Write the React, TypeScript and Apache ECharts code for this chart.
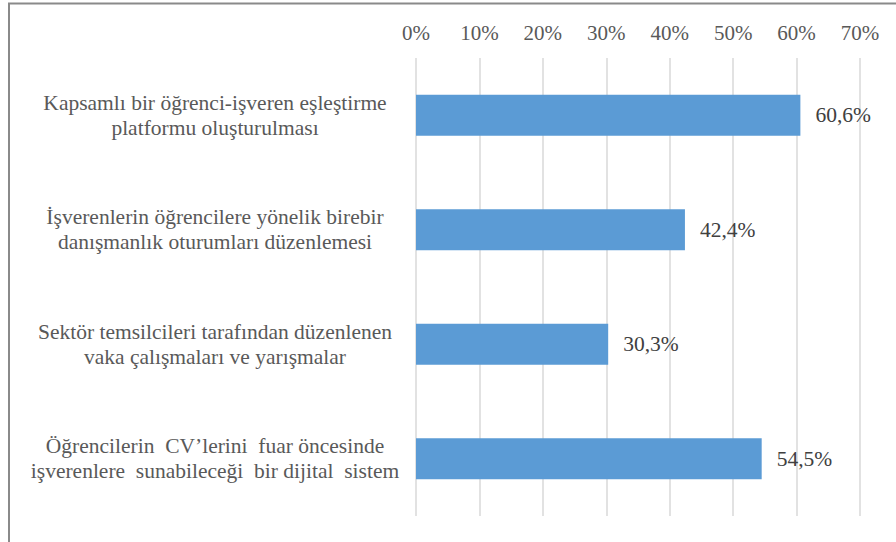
import React, { useEffect, useRef } from "react";
import * as echarts from "echarts";

const categories: string[] = [
  "Kapsamlı bir öğrenci-işveren eşleştirme\nplatformu oluşturulması",
  "İşverenlerin öğrencilere yönelik birebir\ndanışmanlık oturumları düzenlemesi",
  "Sektör temsilcileri tarafından düzenlenen\nvaka çalışmaları ve yarışmalar",
  "Öğrencilerin  CV’lerini  fuar öncesinde\nişverenlere  sunabileceği  bir dijital  sistem",
];
const values: number[] = [60.6, 42.4, 30.3, 54.5];
const tickMax = 70;
const tickStep = 10;

const FONT = "Liberation Serif";

export default function App() {
  const ref = useRef<HTMLDivElement>(null);
  useEffect(() => {
    document.body.style.margin = "0";
    const chart = echarts.init(ref.current!, null, { renderer: "svg" });
    chart.setOption({
      animation: false,
      backgroundColor: "#ffffff",
      textStyle: { fontFamily: FONT },
      graphic: [
        {
          type: "rect",
          shape: { x: 9, y: 3.5, width: 1000, height: 1000 },
          style: { fill: "none", stroke: "#8a8a8a", lineWidth: 2 },
          silent: true,
        },
      ],
      grid: { left: 416, right: 896 - 860, top: 58, bottom: 542 - 516, containLabel: false },
      xAxis: {
        type: "value",
        position: "top",
        min: 0,
        max: tickMax,
        interval: tickStep,
        axisLine: { show: false },
        axisTick: { show: false },
        splitLine: { show: true, lineStyle: { color: "#d9d9d9", width: 1.5 } },
        axisLabel: {
          formatter: (v: number) => `${v}%`,
          color: "#595959",
          fontFamily: FONT,
          fontSize: 21,
          margin: 15,
        },
      },
      yAxis: {
        type: "category",
        inverse: true,
        data: categories,
        axisLine: { show: false },
        axisTick: { show: false },
        axisLabel: {
          align: "center",
          margin: 201,
          color: "#595959",
          fontFamily: FONT,
          fontSize: 21.5,
          lineHeight: 25,
        },
      },
      series: [
        {
          type: "bar",
          data: values,
          barWidth: 41,
          itemStyle: { color: "#5b9bd5" },
          label: {
            show: true,
            position: "right",
            distance: 15,
            formatter: (p: any) => `${String(p.value).replace(".", ",")}%`,
            color: "#404040",
            fontFamily: FONT,
            fontSize: 21.5,
          },
        },
      ],
    });
    return () => chart.dispose();
  }, []);
  return <div ref={ref} style={{ width: 896, height: 542 }} />;
}
